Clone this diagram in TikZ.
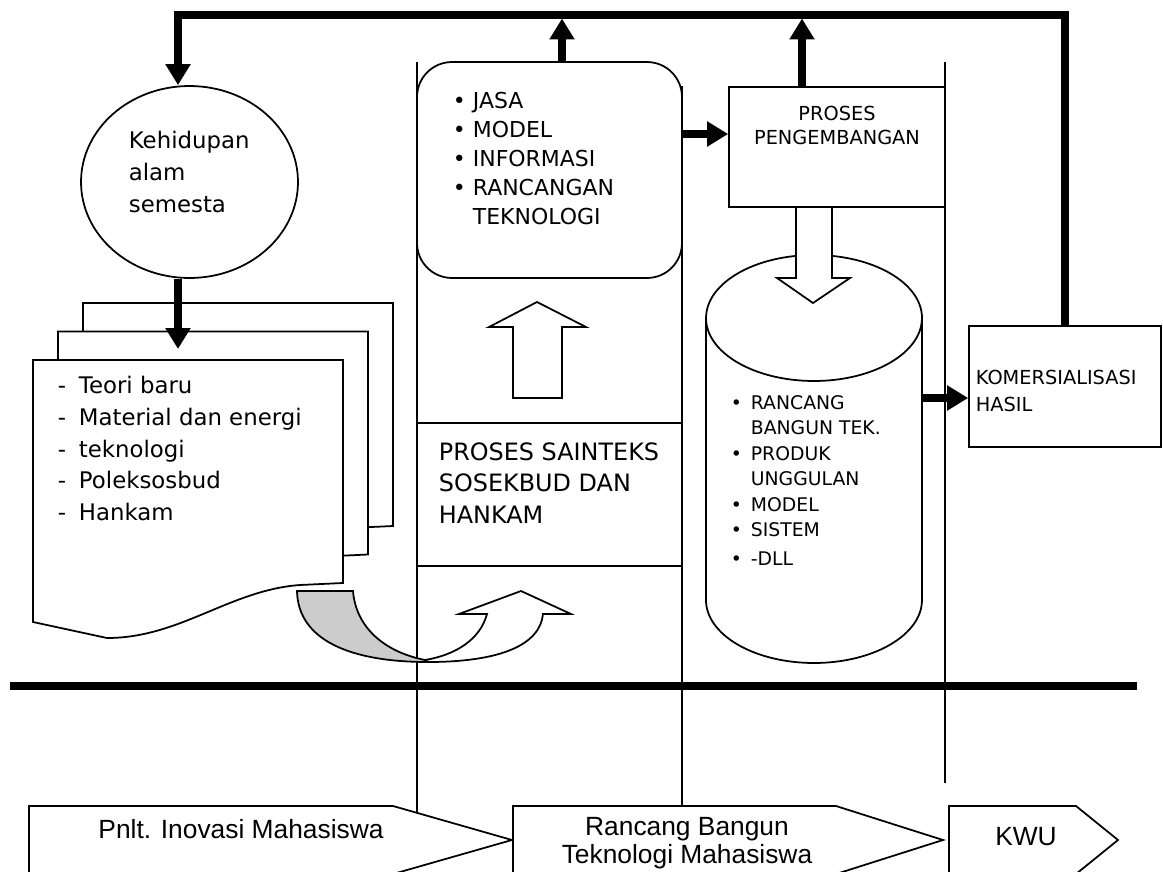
\documentclass[tikz,border=0pt]{standalone}
\usepackage{fontspec}
\setmainfont{DejaVu Sans}
\newfontfamily\arialfont{Liberation Sans}
\usetikzlibrary{arrows.meta,shapes.geometric}
\newcommand\itembul{\makebox[11.4pt][l]{\textbullet}}
\newcommand\itemdash{\makebox[12pt][l]{-}}
\newcommand\itemgap{\hspace*{11.4pt}}

\begin{document}
\begin{tikzpicture}[x=0.02cm,y=-0.02cm,line width=1pt,
    fat/.style={line width=4pt},
    fatarrow/.style={line width=4pt,-{Triangle[width=0.48cm,length=0.42cm]}},
    box/.style={draw,fill=white,inner sep=0pt},
    txt/.style={inner sep=0pt,align=left,anchor=north west},
    hollow/.style={draw,fill=white},
    barrow/.style={font=\arialfont\fontsize{15}{16}\selectfont,inner sep=0pt}]
  \path[use as bounding box,fill=white] (0,0) rectangle (1163,872);
  % swim lanes
  \draw (417,62) -- (417,813); \draw (682,86) -- (682,806); \draw (945,62) -- (945,783);
  % left column
  \node[draw,ellipse,minimum width=4.34cm,minimum height=3.84cm,inner sep=0pt] (alam) at (189.5,182) {};
  \node[txt,font=\fontsize{13}{18}\selectfont] (alamtxt) at (128,130.6) {Kehidupan\\alam\\semesta};
  \foreach \dx/\dy in {50/-57,25/-28.5,0/0}
    \draw[fill=white,shift={(\dx,\dy)}] (33,360) -- (343,360) -- (343,583) -- (300,585)
      .. controls (230,590) and (180,638) .. (107,638) -- (33,622) -- cycle;
  \coordinate (docs) at (188,360);
  \node[txt,font=\fontsize{13}{18}\selectfont] (teori) at (57,375.6)
    {\itemdash Teori baru\\\itemdash Material dan energi\\\itemdash teknologi\\\itemdash Poleksosbud\\\itemdash Hankam};
  % curved arrow
  \draw[fill=gray!40] (297,591) -- (353,591) .. controls (356,628) and (385,652) .. (425,660)
    -- (428,662) .. controls (350,662) and (298,640) .. (297,591) -- cycle;
  \draw[hollow] (428,662) .. controls (500,662) and (540,645) .. (543,614) -- (571,614) -- (521,591)
    -- (459,614) -- (487,614) .. controls (480,640) and (455,655) .. (425,660) -- cycle;
  % middle column
  \node[box,rounded corners=0.7cm,minimum width=5.3cm,minimum height=4.32cm] (jasa) at (549.5,170) {};
  \node[txt,font=\fontsize{12.5}{16.5}\selectfont] (jasatxt) at (452,91)
    {\itembul JASA\\\itembul MODEL\\\itembul INFORMASI\\\itembul RANCANGAN\\\itemgap TEKNOLOGI};
  \draw[hollow] (513,398) -- (513,327) -- (489,327) -- (537,302) -- (586,327) -- (562,327) -- (562,398) -- cycle;
  \node[box,minimum width=5.3cm,minimum height=2.86cm] (sainteks) at (549.5,494.5) {};
  \node[txt,font=\fontsize{13.6}{17.9}\selectfont] (saintekstxt) at (438,441.6)
    {PROSES SAINTEKS\\SOSEKBUD DAN\\HANKAM};
  % right column
  \node[box,minimum width=4.32cm,minimum height=2.4cm] (pengemb) at (837,147) {};
  \node[txt,align=center,anchor=north,font=\fontsize{11}{13.7}\selectfont] (pengembtxt) at (837,105)
    {PROSES\\PENGEMBANGAN};
  \draw[fill=white] (706,318) -- (706,600) arc[start angle=180,end angle=360,x radius=2.16cm,y radius=1.26cm]
    -- (922,318) arc[start angle=0,end angle=180,x radius=2.16cm,y radius=1.26cm] -- cycle;
  \draw (706,318) arc[start angle=180,end angle=360,x radius=2.16cm,y radius=1.26cm];
  \draw[hollow] (796,207) -- (796,278) -- (777,278) -- (813,303) -- (850,278) -- (832,278) -- (832,207) -- cycle;
  \node[txt,font=\fontsize{10.7}{14.5}\selectfont] (hasiltxt) at (730,394.3)
    {\itembul RANCANG\\\itemgap BANGUN TEK.\\\itembul PRODUK\\\itemgap UNGGULAN\\\itembul MODEL\\\itembul SISTEM\\[2pt]\itembul -DLL};
  \node[box,minimum width=3.84cm,minimum height=2.42cm] (kom) at (1065,386.5) {};
  \node[txt,font=\fontsize{11}{15.4}\selectfont] (komtxt) at (975,369) {KOMERSIALISASI\\HASIL};
  % thick arrows
  \coordinate (tl) at (178,15);
  \coordinate (up1) at (562,62); \coordinate (up2) at (802,87);
  \coordinate (ja) at (682,134); \coordinate (cy) at (922,398);
  \draw[fatarrow] (kom.north) |- (tl) -- (tl |- alam.north);
  \draw[fatarrow] (tl |- alam.south) -- ([yshift=0.22cm]tl |- docs);
  \draw[fatarrow] (up1) -- ([yshift=-0.07cm]up1 |- tl);
  \draw[fatarrow] (up2) -- ([yshift=-0.07cm]up2 |- tl);
  \draw[fatarrow] (ja) -- (ja -| pengemb.west);
  \draw[fatarrow] (cy) -- (cy -| kom.west);
  \draw[fat] (10,686) -- (1137,686);
  % bottom arrows
  \draw[fill=white] (29,806) -- (393,806) -- (512,840) -- (393,874) -- (29,874) -- cycle;
  \draw[fill=white] (513,806) -- (836,806) -- (943,840) -- (836,874) -- (513,874) -- cycle;
  \draw[fill=white] (949,806) -- (1076,806) -- (1118,840) -- (1076,874) -- (949,874) -- cycle;
  \node[barrow,anchor=base] (pnlt) at (241,838) {Pnlt. Inovasi Mahasiswa};
  \node[barrow,anchor=north,align=center] (rbtm) at (687,816) {Rancang Bangun\\Teknologi Mahasiswa};
  \node[barrow,anchor=base] (kwu) at (1026,845) {KWU};
\end{tikzpicture}
\end{document}
